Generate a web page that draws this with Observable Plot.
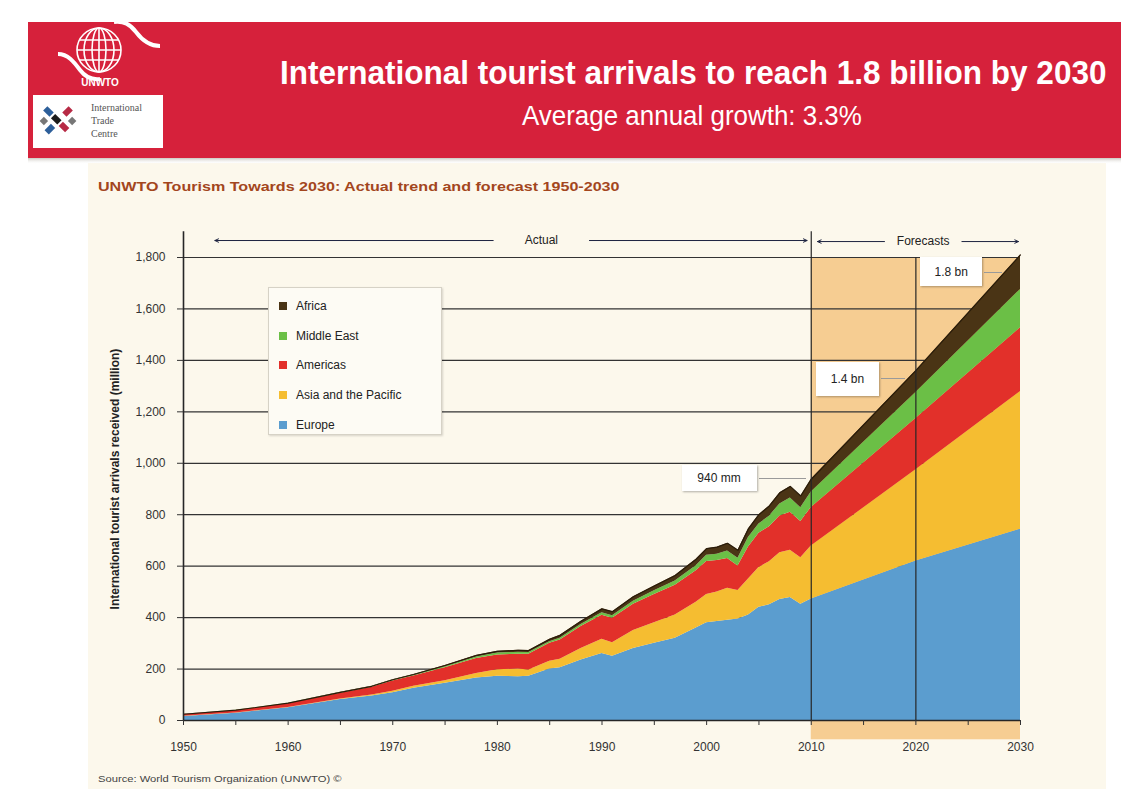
<!DOCTYPE html>
<html>
<head>
<meta charset="utf-8">
<script src="https://cdn.jsdelivr.net/npm/d3@7"></script>
<script src="https://cdn.jsdelivr.net/npm/@observablehq/plot@0.6"></script>
<style>
  html, body { margin: 0; padding: 0; }
  body { width: 1121px; height: 789px; background: #fff; position: relative; overflow: hidden;
         font-family: "Liberation Sans", Arial, Helvetica, sans-serif; }
  #deco { position: absolute; left: 0; top: 0; }
  #chart { position: absolute; left: 0; top: 170px; }
  #legend { position: absolute; left: 268px; top: 287px; width: 174px; height: 148px;
            background: #fdfbf4; border: 1px solid #d6d2c6; box-shadow: 1px 1px 2px rgba(0,0,0,0.15);
            box-sizing: border-box; }
  #legend .item { position: absolute; left: 10px; font-size: 12px; color: #222; line-height: 14px; }
  #legend .sw { display: inline-block; width: 8px; height: 8px; margin-right: 9px; vertical-align: 0px; }
  .ann { position: absolute; background: #fff; box-shadow: 1px 1px 2px rgba(0,0,0,0.3);
         font-size: 12px; color: #222; display: flex; align-items: center; justify-content: center; }
  .lead { position: absolute; height: 1px; background: #9a9a9a; }
</style>
</head>
<body>
<svg id="deco" width="1121" height="789">
  <defs>
    <linearGradient id="shadow" x1="0" y1="0" x2="0" y2="1">
      <stop offset="0" stop-color="#b9b3a8"/>
      <stop offset="1" stop-color="#ffffff" stop-opacity="0"/>
    </linearGradient>
  </defs>
  <rect x="88" y="163" width="1018" height="626" fill="#fcf8ec"/>
  <rect x="28" y="157" width="1093" height="7" fill="url(#shadow)"/>
  <rect x="28" y="22" width="1093" height="136" fill="#d6213b"/>
  <!-- UNWTO logo -->
  <g stroke="#fff" fill="none" stroke-width="1.6">
    <circle cx="99" cy="50" r="22"/>
    <ellipse cx="99" cy="50" rx="15" ry="22"/>
    <ellipse cx="99" cy="50" rx="7" ry="22"/>
    <line x1="99" y1="28" x2="99" y2="72"/>
    <line x1="80" y1="40" x2="118" y2="40"/>
    <line x1="77" y1="50" x2="121" y2="50"/>
    <line x1="80" y1="60" x2="118" y2="60"/>
  </g>
  <path d="M58 54 C 68 54, 74 62, 80 70 C 86 78, 92 80, 100 79" stroke="#fff" stroke-width="4" fill="none"/>
  <path d="M160 46 C 150 46, 142 40, 136 32 C 130 24, 124 21, 114 22" stroke="#fff" stroke-width="4" fill="none"/>
  <text x="100" y="86" font-size="10" font-weight="bold" fill="#fff" text-anchor="middle">UNWTO</text>
  <!-- ITC logo -->
  <rect x="33" y="95" width="130" height="53" fill="#fff"/>
  <g transform="translate(58,121) rotate(45)">
    <rect x="-18" y="-3" width="9" height="6" fill="#2d5f9a"/>
    <rect x="-7" y="-3" width="9" height="6" fill="#1b1b1b"/>
    <rect x="4" y="-3" width="9" height="6" fill="#b72a45"/>
    <rect x="-3" y="-18" width="6" height="9" fill="#b72a45"/>
    <rect x="-3" y="7" width="6" height="9" fill="#2d5f9a"/>
    <rect x="-13" y="7" width="6" height="6" fill="#777"/>
    <rect x="7" y="-13" width="6" height="6" fill="#777"/>
  </g>
  <g font-family="'Liberation Serif', 'DejaVu Serif', serif" font-size="10" fill="#555">
    <text x="91" y="111">International</text>
    <text x="91" y="124">Trade</text>
    <text x="91" y="137">Centre</text>
  </g>
  <!-- Titles (horizontally fitted by script) -->
  <text class="fit" data-x="280" data-y="84" data-w="827" fill="#fff"
        font-family="'Liberation Sans Narrow', 'Liberation Sans', Arial, sans-serif"
        font-weight="bold" font-size="34">International tourist arrivals to reach 1.8 billion by 2030</text>
  <text class="fit" data-x="522" data-y="125" data-w="340" fill="#fff"
        font-family="'Liberation Sans Narrow', 'Liberation Sans', Arial, sans-serif"
        font-size="28">Average annual growth: 3.3%</text>
  <text class="fit" data-x="98" data-y="191" data-w="522" fill="#a3461d"
        font-family="'Liberation Sans', Arial, sans-serif"
        font-weight="bold" font-size="13.5">UNWTO Tourism Towards 2030: Actual trend and forecast 1950-2030</text>
  <text class="fit" data-x="98" data-y="782" data-w="244" fill="#444"
        font-family="'Liberation Sans', Arial, sans-serif"
        font-size="9.5">Source: World Tourism Organization (UNWTO) ©</text>
</svg>
<div id="chart"></div>
<div id="legend"></div>
<script>
// ---- Data (million international tourist arrivals) ----
const years       = [1950,1955,1960,1965,1968,1970,1972,1975,1978,1980,1982,1983,1985,1986,1988,1990,1991,1993,1995,1997,1999,2000,2001,2002,2003,2004,2005,2006,2007,2008,2009,2010,2020,2030];
const europe      = [16,28,50,82,95,108,125,145,165,172,170,172,200,205,235,260,250,280,300,320,360,380,385,390,395,410,440,450,470,478,452,472,620,744];
const asiaPacific = [0.5,1,1,2,4,6,8,10,18,25,30,24,30,33,45,56,52,70,80,90,100,110,115,124,110,140,155,167,182,184,181,206,355,535];
const americas    = [7,10,15,22,30,40,40,50,58,58,58,62,70,75,85,93,96,102,110,116,122,128,122,116,96,125,133,136,143,148,141,150,199,248];
const middleEast  = [0.2,0.4,0.6,2,2,2,3,4,6,7,7,6,6,7,8,10,9,12,14,16,20,24,24,29,30,36,36,41,47,55,53,60,101,149];
const africa      = [0.5,0.6,0.8,1.4,2,2.4,3,4.7,6,7,8,8,10,11,13,15,16,17,19,22,25,26,28,30,31,34,36,40,43,45,46,50,85,134];

const regions = ["Europe", "Asia and the Pacific", "Americas", "Middle East", "Africa"];
const colors  = ["#5b9dcf", "#f5bd31", "#e2302a", "#6bbf46", "#4a3415"];
const xTicks  = [1950,1955,1960,1965,1970,1975,1980,1985,1990,1995,2000,2005,2010,2015,2020,2025,2030];
const yTicks  = [0,200,400,600,800,1000,1200,1400,1600,1800];
const forecastStart = 2010, forecastMid = 2020, forecastEnd = 2030;
const annotations = [
  {label: "940 mm", year: 2009.5, value: 940},
  {label: "1.4 bn", year: 2019,   value: 1330},
  {label: "1.8 bn", year: 2028.3, value: 1742}
];

// ---- Fit decorative titles to their measured widths ----
document.querySelectorAll("text.fit").forEach(el => {
  const len = el.getComputedTextLength();
  const k = (+el.dataset.w) / len;
  el.setAttribute("transform", `translate(${el.dataset.x},${el.dataset.y}) scale(${k},1)`);
});

// ---- Build table ----
const series = [europe, asiaPacific, americas, middleEast, africa];
const rows = [];
years.forEach((yr, i) => regions.forEach((r, j) => rows.push({year: yr, region: r, value: series[j][i]})));
const totals = years.map((yr, i) => ({year: yr, value: d3.sum(series, s => s[i])}));

const ink = "#262626";
const plot = Plot.plot({
  width: 1121, height: 619,
  marginLeft: 183, marginRight: 101, marginTop: 87, marginBottom: 69,
  x: {domain: [1950, 2030]},
  y: {domain: [0, 1800]},
  color: {domain: regions, range: colors},
  style: {background: "transparent", fontFamily: "'Liberation Sans', Arial, sans-serif", fontSize: "12px", color: "#333", overflow: "visible"},
  marks: [
    Plot.rect([0], {x1: forecastStart, x2: forecastEnd, y1: -75, y2: 1800, fill: "#f6cd92"}),
    Plot.ruleY(yTicks.filter(d => d > 0), {x1: 1950, x2: 2030, stroke: "#333", strokeWidth: 1.2}),
    Plot.areaY(rows, {x: "year", y: "value", z: "region", fill: "region", order: regions, curve: "linear"}),
    Plot.lineY(totals, {x: "year", y: "value", stroke: "#2a1c0a", strokeWidth: 1.2}),
    Plot.ruleX([forecastStart], {y1: 0, y2: 1900, stroke: ink, strokeWidth: 1.2}),
    Plot.ruleX([forecastMid], {y1: 0, y2: 1800, stroke: ink, strokeWidth: 1.2}),
    Plot.ruleX([1950], {y1: 0, y2: 1900, stroke: ink, strokeWidth: 1.6}),
    Plot.ruleY([0], {x1: 1950, x2: 2030, stroke: ink, strokeWidth: 1.6}),
    Plot.axisY({ticks: yTicks, tickFormat: d3.format(","), tickSize: 6, tickPadding: 12, label: null, fontSize: 12}),
    Plot.axisX({ticks: xTicks, tickFormat: d => d % 10 === 0 ? String(d) : "", tickSize: 5, tickPadding: 17, label: null, fontSize: 12}),
    Plot.text(["International tourist arrivals received (million)"], {frameAnchor: "left", dx: -68, dy: -10, rotate: -90, textAnchor: "middle", fontWeight: "bold", fontSize: 12, fill: "#222"}),
    // period arrows
    Plot.arrow([
      {x1: 1979.6, x2: 1953, y: 1866},
      {x1: 1988.8, x2: 2009.6, y: 1866},
      {x1: 2017.0, x2: 2010.6, y: 1862},
      {x1: 2024.4, x2: 2029.8, y: 1862}
    ], {x1: "x1", x2: "x2", y1: "y", y2: "y", stroke: "#1d2340", strokeWidth: 1, headLength: 6, headAngle: 50}),
    Plot.text([{x: 1984.2, y: 1866, t: "Actual"}, {x: 2020.7, y: 1862, t: "Forecasts"}],
      {x: "x", y: "y", text: "t", fontSize: 12, fill: "#222"})
  ]
});
document.getElementById("chart").appendChild(plot);

// ---- Annotation boxes tied to the chart's scales ----
const sx = plot.scale("x"), sy = plot.scale("y");
const top0 = 170;
const boxGeom = {"940 mm": {lead: 49, w: 75, h: 26, dy: 0}, "1.4 bn": {lead: 26, w: 63, h: 34, dy: 1}, "1.8 bn": {lead: 20, w: 62, h: 29, dy: 0}};
annotations.forEach(a => {
  const px = sx.apply(a.year), py = sy.apply(a.value) + top0;
  const g = boxGeom[a.label];
  const lead = document.createElement("div");
  lead.className = "lead";
  lead.style.left = (px - g.lead + 2) + "px"; lead.style.top = py + "px"; lead.style.width = (g.lead - 2) + "px";
  document.body.appendChild(lead);
  const box = document.createElement("div");
  box.className = "ann";
  box.textContent = a.label;
  box.style.left = (px - g.lead - g.w) + "px";
  box.style.top = (py - g.h / 2 + g.dy) + "px";
  box.style.width = g.w + "px"; box.style.height = g.h + "px";
  document.body.appendChild(box);
});

// ---- Legend ----
const legend = document.getElementById("legend");
regions.slice().reverse().forEach((r, i) => {
  const c = colors[regions.indexOf(r)];
  const it = document.createElement("div");
  it.className = "item";
  it.style.top = (11 + i * 29.7) + "px";
  it.innerHTML = `<span class="sw" style="background:${c}"></span>${r}`;
  legend.appendChild(it);
});
</script>
</body>
</html>
